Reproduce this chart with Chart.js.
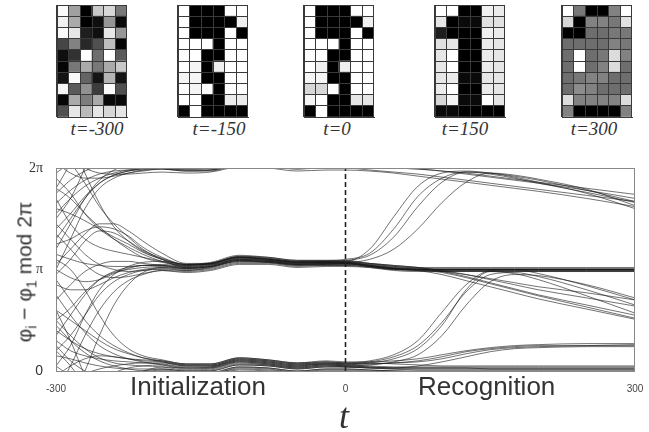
<!DOCTYPE html>
<html><head><meta charset="utf-8">
<script src="https://cdn.jsdelivr.net/npm/chart.js@4/dist/chart.umd.min.js"></script>
<style>
html,body{margin:0;padding:0;background:#fff;width:649px;height:432px;overflow:hidden;position:relative;font-family:"Liberation Sans",Arial,sans-serif}
.gc{position:absolute;top:4px}
.tl{position:absolute;top:118px;font-family:"Liberation Serif","Times New Roman",serif;font-style:italic;font-size:19px;color:#333;transform:translateX(-50%);white-space:nowrap}
#mainc{position:absolute;left:0;top:150px}
.phase{position:absolute;top:371px;font-size:26px;color:#333;white-space:nowrap}
#tlab{position:absolute;left:344px;top:395px;transform:translateX(-50%);font-family:"Liberation Serif","Times New Roman",serif;font-style:italic;font-size:36px;color:#333}
#ylab{position:absolute;left:26px;top:272px;transform:translate(-50%,-50%) rotate(-90deg);white-space:nowrap;font-size:21px;color:#333}
#ylab sub{font-size:14px}
</style></head>
<body>
<canvas id="g0" class="gc" width="72" height="114" style="left:56px"></canvas>
<canvas id="g1" class="gc" width="72" height="114" style="left:177px"></canvas>
<canvas id="g2" class="gc" width="72" height="114" style="left:303px"></canvas>
<canvas id="g3" class="gc" width="72" height="114" style="left:434px"></canvas>
<canvas id="g4" class="gc" width="72" height="114" style="left:561px"></canvas>
<div class="tl" style="left:97px">t=-300</div>
<div class="tl" style="left:219px">t=-150</div>
<div class="tl" style="left:337px">t=0</div>
<div class="tl" style="left:465px">t=150</div>
<div class="tl" style="left:594px">t=300</div>
<canvas id="mainc" width="649" height="250"></canvas>
<div class="phase" style="left:130px">Initialization</div>
<div class="phase" style="left:418px">Recognition</div>
<div id="tlab">t</div>
<div id="ylab">φ<sub>i</sub> − φ<sub>1</sub> mod 2π</div>
<script>
// ---------- pixel patterns (grey level 0=black, 255=white), rows top to bottom ----------
const COLS = ['c1','c2','c3','c4','c5','c6'];
const GRID_T_M300 = [
 [250,160,0,200,215,120],
 [240,170,0,15,150,10],
 [250,230,30,15,230,150],
 [70,130,40,80,190,5],
 [15,50,255,110,255,90],
 [5,120,170,120,170,200],
 [20,250,100,20,180,20],
 [245,90,145,60,250,80],
 [5,170,125,170,10,10],
 [80,230,185,230,215,230]
];
const GRID_T_M150 = [
 [255,0,0,0,255,255],
 [255,0,0,0,0,240],
 [255,0,0,0,255,0],
 [255,255,255,0,255,255],
 [255,255,0,0,255,255],
 [255,245,0,240,255,255],
 [245,245,0,0,255,255],
 [255,245,255,0,255,255],
 [255,255,0,0,235,235],
 [0,255,0,0,0,0]
];
const GRID_T_0 = [
 [255,0,0,0,255,255],
 [255,0,0,0,0,240],
 [255,0,0,0,255,0],
 [255,255,255,0,255,255],
 [255,255,0,0,255,255],
 [255,240,0,240,255,255],
 [245,245,0,0,255,255],
 [215,215,255,0,255,255],
 [245,255,0,0,230,230],
 [0,255,0,0,0,0]
];
const GRID_T_150 = [
 [255,255,0,0,240,235],
 [230,0,10,10,225,225],
 [30,0,0,0,240,235],
 [225,230,0,0,235,230],
 [230,255,0,0,235,230],
 [230,255,0,0,235,230],
 [230,235,10,10,230,230],
 [235,255,0,0,235,230],
 [215,245,10,10,255,230],
 [10,10,0,0,0,0]
];
const GRID_T_300 = [
 [255,120,0,0,130,255],
 [215,0,130,130,120,225],
 [0,0,110,110,120,120],
 [110,110,110,110,130,120],
 [110,255,110,120,220,130],
 [110,255,110,130,220,110],
 [110,120,130,130,110,110],
 [110,140,130,110,110,110],
 [220,130,130,130,130,220],
 [130,0,0,0,0,130]
];

// ---------- phase differences (unwrapped, in units of pi) ----------
const T = [-300,-285,-270,-255,-240,-225,-210,-190,-165,-140,-110,-80,-50,-20,0,25,50,75,100,125,150,175,200,250,300];
const P1  = [1.90,1.75,1.55,1.40,1.30, 1.22,1.15,1.08,1.03,1.05, 1.12,1.10,1.07,1.07,1.07, 1.04,1.01,1.00,1.00,1.00, 1.00,1.00,1.00,1.00,1.00];
const P2  = [0.50,0.62,0.78,0.90,0.97, 1.00,1.02,1.03,1.01,1.03, 1.09,1.08,1.05,1.06,1.06, 1.03,1.01,1.00,1.00,1.00, 1.00,1.00,1.00,1.00,1.00];
const P3  = [1.60,1.55,1.48,1.40,1.32, 1.25,1.17,1.10,1.04,1.06, 1.13,1.11,1.08,1.08,1.08, 1.05,1.02,1.01,1.01,1.01, 1.01,1.01,1.01,1.01,1.01];
const P4  = [0.20,0.35,0.55,0.75,0.88, 0.95,0.99,1.00,0.99,1.01, 1.07,1.07,1.04,1.05,1.05, 1.03,1.00,1.00,1.00,1.00, 1.00,1.00,1.00,1.00,1.00];
const P5  = [1.25,1.30,1.38,1.42,1.40, 1.33,1.22,1.12,1.05,1.05, 1.11,1.09,1.06,1.07,1.07, 1.04,1.01,1.00,0.99,0.99, 0.99,0.99,0.99,0.99,0.99];
const P6  = [0.85,0.80,0.80,0.85,0.92, 0.97,1.00,1.02,1.00,1.02, 1.08,1.08,1.05,1.05,1.06, 1.03,1.00,0.99,0.98,0.98, 0.98,0.98,0.98,0.98,0.98];
const P7  = [1.05,1.20,1.35,1.45,1.45, 1.38,1.28,1.16,1.06,1.06, 1.12,1.10,1.07,1.06,1.06, 1.03,1.01,1.00,1.00,1.00, 1.00,1.00,1.00,1.00,1.00];
const P8  = [1.45,1.30,1.15,1.05,1.00, 0.98,0.99,1.01,0.99,1.02, 1.09,1.07,1.05,1.05,1.05, 1.04,1.02,1.00,0.97,0.92, 0.86,0.80,0.74,0.63,0.52];
const P9  = [0.70,0.85,0.98,1.05,1.08, 1.08,1.06,1.04,1.01,1.03, 1.10,1.09,1.06,1.07,1.07, 1.06,1.04,1.02,0.98,0.93, 0.87,0.81,0.75,0.65,0.55];
const P10 = [1.00,0.92,0.88,0.90,0.96, 1.01,1.04,1.04,1.02,1.04, 1.10,1.08,1.06,1.06,1.06, 1.05,1.03,1.01,0.98,0.95, 0.91,0.87,0.83,0.77,0.70];
const P11 = [1.80,1.70,1.55,1.42,1.30, 1.20,1.12,1.07,1.04,1.06, 1.12,1.11,1.08,1.08,1.09, 1.14,1.32,1.62,1.86,1.96, 1.95,1.92,1.88,1.78,1.67];
const P12 = [0.35,0.55,0.75,0.90,0.98, 1.02,1.04,1.04,1.02,1.04, 1.10,1.09,1.07,1.07,1.07, 1.10,1.20,1.40,1.66,1.86, 1.95,1.93,1.89,1.79,1.63];
const P13 = [1.15,1.10,1.06,1.04,1.03, 1.03,1.04,1.05,1.03,1.05, 1.11,1.10,1.07,1.08,1.08, 1.20,1.52,1.82,1.95,1.97, 1.95,1.91,1.86,1.75,1.60];
const P14 = [-0.50,-0.30,0.00,0.35,0.65, 0.85,0.97,1.02,1.01,1.03, 1.09,1.08,1.05,1.06,1.06, 1.04,1.01,1.00,1.00,1.00, 1.00,1.00,1.00,1.00,1.00];
const P15 = [2.60,2.30,1.95,1.65,1.42, 1.28,1.18,1.10,1.05,1.06, 1.12,1.10,1.07,1.07,1.07, 1.04,1.01,1.00,1.00,1.00, 1.00,1.00,1.00,1.00,1.00];
const P16 = [0.05,0.25,0.55,0.80,0.95, 1.03,1.07,1.08,1.05,1.06, 1.13,1.12,1.09,1.09,1.09, 1.06,1.03,1.02,1.02,1.02, 1.02,1.02,1.02,1.02,1.02];
const P17 = [2.20,2.05,1.85,1.62,1.45, 1.32,1.20,1.10,1.02,1.03, 1.08,1.07,1.04,1.04,1.04, 1.02,0.99,0.98,0.98,0.98, 0.98,0.98,0.98,0.98,0.98];
const P18 = [1.35,1.20,1.05,0.95,0.92, 0.93,0.96,0.99,0.98,1.00, 1.06,1.06,1.03,1.04,1.04, 1.03,1.01,0.99,0.95,0.89, 0.83,0.77,0.71,0.61,0.51];
const P19 = [0.95,1.10,1.28,1.38,1.36, 1.28,1.19,1.11,1.05,1.07, 1.14,1.12,1.09,1.09,1.10, 1.16,1.40,1.72,1.90,1.96, 1.94,1.90,1.85,1.76,1.66];
const P20 = [-0.20,0.05,0.35,0.60,0.78, 0.89,0.95,0.99,0.97,0.99, 1.05,1.05,1.02,1.03,1.03, 1.02,1.00,0.99,0.99,0.99, 0.99,0.99,0.99,0.99,0.99];
const P21 = [1.70,1.45,1.30,1.22,1.18, 1.15,1.12,1.08,1.04,1.06, 1.12,1.10,1.08,1.08,1.08, 1.06,1.04,1.02,0.99,0.95, 0.90,0.85,0.80,0.72,0.64];
const Z1  = [0.30,0.20,0.15,0.12,0.10, 0.09,0.08,0.07,0.04,0.04, 0.10,0.08,0.05,0.07,0.06, 0.05,0.04,0.04,0.04,0.04, 0.04,0.04,0.04,0.04,0.04];
const Z2  = [1.40,1.55,1.72,1.85,1.93, 1.97,2.00,2.04,2.03,2.03, 2.09,2.07,2.04,2.06,2.05, 2.04,2.03,2.03,2.03,2.03, 2.02,2.02,2.02,2.02,2.02];
const Z3  = [0.60,0.50,0.40,0.30,0.22, 0.17,0.13,0.10,0.06,0.06, 0.12,0.10,0.07,0.08,0.07, 0.07,0.08,0.10,0.14,0.19, 0.22,0.24,0.25,0.25,0.25];
const Z4  = [1.75,1.88,1.97,2.02,2.05, 2.07,2.08,2.08,2.05,2.05, 2.11,2.09,2.06,2.08,2.07, 2.07,2.08,2.09,2.12,2.17, 2.21,2.23,2.24,2.25,2.26];
const Z5  = [0.05,-0.05,-0.10,-0.10,-0.08, -0.05,-0.03,-0.01,-0.02,-0.02, 0.02,0.01,-0.01,0.00,0.00, -0.02,-0.04,-0.06,-0.09,-0.12, -0.15,-0.18,-0.21,-0.27,-0.33];
const Z6  = [1.20,1.45,1.70,1.88,1.98, 2.03,2.05,2.06,2.03,2.04, 2.10,2.08,2.05,2.07,2.06, 2.08,2.12,2.22,2.45,2.80, 2.98,2.96,2.90,2.74,2.57];
const Z7  = [0.90,0.70,0.50,0.35,0.25, 0.18,0.13,0.09,0.05,0.05, 0.11,0.09,0.06,0.07,0.07, 0.09,0.14,0.25,0.48,0.78, 0.95,0.97,0.93,0.80,0.65];
const Z8  = [0.15,0.12,0.08,0.05,0.03, 0.02,0.02,0.02,0.00,0.01, 0.07,0.06,0.03,0.05,0.05, 0.04,0.03,0.03,0.03,0.03, 0.03,0.03,0.03,0.03,0.03];
const Z9  = [1.55,1.70,1.82,1.90,1.95, 1.98,2.00,2.02,2.00,2.00, 2.06,2.05,2.02,2.04,2.04, 2.03,2.03,2.05,2.09,2.14, 2.19,2.22,2.23,2.24,2.24];
const Z10 = [0.45,0.30,0.18,0.10,0.05, 0.02,0.00,-0.01,-0.03,-0.02, 0.04,0.03,0.00,0.02,0.02, 0.01,0.00,-0.01,-0.03,-0.06, -0.09,-0.12,-0.15,-0.22,-0.30];
const Z11 = [1.95,2.05,2.12,2.15,2.14, 2.12,2.10,2.09,2.06,2.06, 2.12,2.10,2.07,2.09,2.08, 2.08,2.07,2.06,2.05,2.05, 2.05,2.05,2.05,2.05,2.05];
const Z12 = [0.75,0.55,0.38,0.25,0.17, 0.12,0.09,0.06,0.02,0.03, 0.09,0.07,0.04,0.06,0.05, 0.06,0.09,0.16,0.35,0.65, 0.88,0.95,0.94,0.85,0.72];
const Z13 = [-0.70,-0.50,-0.30,-0.15,-0.07, -0.03,-0.01,0.01,-0.01,0.00, 0.06,0.05,0.02,0.04,0.04, 0.03,0.02,0.02,0.02,0.02, 0.02,0.02,0.02,0.02,0.02];
const Z14 = [1.00,1.30,1.60,1.80,1.90, 1.95,1.98,2.00,1.98,1.98, 2.04,2.03,2.00,2.02,2.02, 2.01,2.00,1.99,1.97,1.95, 1.92,1.89,1.86,1.80,1.74];
const Z15 = [0.50,0.35,0.22,0.13,0.08, 0.06,0.05,0.04,0.01,0.02, 0.08,0.06,0.03,0.05,0.04, 0.03,0.02,0.01,0.01,0.01, 0.01,0.01,0.01,0.01,0.01];
const Z16 = [2.40,2.30,2.22,2.17,2.14, 2.12,2.11,2.10,2.07,2.07, 2.13,2.11,2.08,2.10,2.09, 2.09,2.10,2.12,2.16,2.20, 2.23,2.25,2.26,2.27,2.27];
const Z17 = [1.10,1.00,0.80,0.55,0.35, 0.22,0.15,0.11,0.07,0.07, 0.13,0.11,0.08,0.09,0.08, 0.10,0.16,0.30,0.58,0.85, 0.99,1.00,0.96,0.84,0.70];
const Z18 = [1.65,1.78,1.88,1.94,1.97, 1.98,1.98,1.99,1.97,1.97, 2.03,2.02,1.99,2.01,2.01, 2.00,2.00,2.00,2.00,2.00, 2.00,2.00,2.00,2.00,2.00];
const Z19 = [0.25,0.10,0.00,-0.05,-0.06, -0.06,-0.05,-0.04,-0.05,-0.04, 0.01,0.00,-0.03,-0.02,-0.02, -0.03,-0.05,-0.08,-0.11,-0.14, -0.17,-0.20,-0.23,-0.30,-0.38];
const TRAJECTORIES = [P1,P2,P3,P4,P5,P6,P7,P8,P9,P10,P11,P12,P13,P14,P15,P16,P17,P18,P19,P20,P21,
                      Z1,Z2,Z3,Z4,Z5,Z6,Z7,Z8,Z9,Z10,Z11,Z12,Z13,Z14,Z15,Z16,Z17,Z18,Z19];
const WRAP_OFFSETS = [-2, 0, 2];          // mod 2π: draw each unwrapped curve shifted by ±2π
const X_TICKS = [-300, 0, 300];
const Y_TICKS = [0, 1, 2];
const Y_TICK_LABELS = ['0', 'π', '2π'];

// ---------- pixel pattern charts ----------
function gridChart(id, rows) {
  const datasets = [];
  for (let r = rows.length - 1; r >= 0; r--) {
    datasets.push({
      data: rows[r].map(() => 1),
      backgroundColor: rows[r].map(v => `rgb(${v},${v},${v})`),
      borderWidth: 0, barPercentage: 1, categoryPercentage: 1
    });
  }
  new Chart(document.getElementById(id), {
    type: 'bar',
    data: { labels: COLS, datasets },
    options: {
      responsive: false, animation: false, events: [], devicePixelRatio: 1,
      layout: { padding: 1 },
      plugins: { legend: { display: false }, tooltip: { enabled: false } },
      scales: {
        x: { stacked: true, ticks: { display: false },
             grid: { offset: true, color: '#3a3a3a', lineWidth: 1, drawTicks: false, z: 1 },
             border: { color: '#3a3a3a', z: 2 }, afterFit: s => { s.height = 0; } },
        y: { stacked: true, min: 0, max: 10, ticks: { display: false, stepSize: 1 },
             grid: { color: '#3a3a3a', lineWidth: 1, drawTicks: false, z: 1 },
             border: { color: '#3a3a3a', z: 2 }, afterFit: s => { s.width = 0; } }
      }
    }
  });
}
gridChart('g0', GRID_T_M300);
gridChart('g1', GRID_T_M150);
gridChart('g2', GRID_T_0);
gridChart('g3', GRID_T_150);
gridChart('g4', GRID_T_300);

// ---------- main phase plot ----------
const mainSets = [];
TRAJECTORIES.forEach(tr => {
  WRAP_OFFSETS.forEach(off => {
    mainSets.push({
      data: T.map((t, i) => ({ x: t, y: tr[i] + off })),
      borderColor: 'rgba(25,25,25,0.72)', borderWidth: 0.85,
      pointRadius: 0, cubicInterpolationMode: 'monotone', fill: false
    });
  });
});
mainSets.unshift({
  data: [{ x: 0, y: 0 }, { x: 0, y: 2 }],
  borderColor: '#222', borderWidth: 1.6, borderDash: [5, 3],
  pointRadius: 0, fill: false
});

const frame = {
  id: 'frame',
  afterDatasetsDraw(c) {
    const a = c.chartArea, x = c.ctx;
    x.save(); x.strokeStyle = '#888'; x.lineWidth = 1;
    x.strokeRect(Math.round(a.left) + 0.5, Math.round(a.top) + 0.5,
                 Math.round(a.right - a.left) - 1, Math.round(a.bottom - a.top));
    x.restore();
  }
};

new Chart(document.getElementById('mainc'), {
  type: 'line',
  data: { datasets: mainSets },
  plugins: [frame],
  options: {
    responsive: false, animation: false, events: [], devicePixelRatio: 1,
    layout: { padding: { top: 18, right: 14, left: 0, bottom: 0 } },
    plugins: { legend: { display: false }, tooltip: { enabled: false } },
    scales: {
      x: { type: 'linear', min: -300, max: 300,
           afterBuildTicks: s => { s.ticks = X_TICKS.map(v => ({ value: v })); },
           ticks: { font: { size: 10, family: 'Liberation Sans' }, color: '#444', padding: 4, maxRotation: 0 },
           grid: { display: false }, border: { display: false },
           afterFit: s => { s.height = 29; } },
      y: { type: 'linear', min: 0, max: 2,
           afterBuildTicks: s => { s.ticks = Y_TICKS.map(v => ({ value: v })); },
           ticks: { callback: (v) => Y_TICK_LABELS[Y_TICKS.indexOf(v)],
                    font: (ctx) => (ctx.tick && ctx.tick.value === 0)
                                   ? { size: 14, family: 'Liberation Sans' }
                                   : { size: 14, family: 'Liberation Serif' },
                    color: '#333', padding: 5 },
           grid: { display: false }, border: { display: false },
           afterFit: s => { s.width = 56; } }
    }
  }
});
</script>
</body></html>
